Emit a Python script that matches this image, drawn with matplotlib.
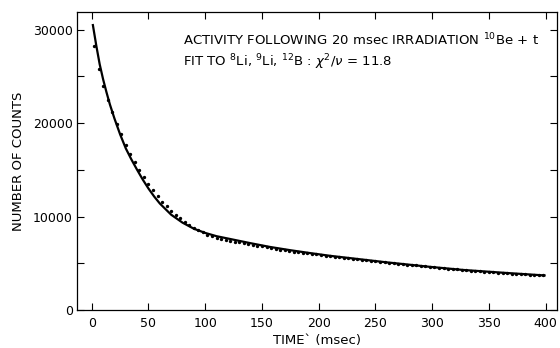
import numpy as np
import matplotlib.pyplot as plt

# fitted curve
fit_t = [1, 4, 7, 10, 13, 16, 20, 25, 30, 35, 40, 45, 50, 55, 60, 70, 80, 90,
         100, 110, 122, 140, 157, 175, 192, 210, 230, 260, 298, 327, 366, 399]
fit_counts = [30500, 28300, 26300, 24700, 23300, 22000, 20500, 18800, 17300, 16100,
              15000, 13950, 13000, 12150, 11400, 10200, 9350, 8700, 8250, 7900,
              7600, 7150, 6750, 6400, 6100, 5800, 5520, 5100, 4620, 4290, 3960, 3700]

# measured counts
data_t = list(range(2, 400, 4))
data_counts = [28300, 25800, 24000, 22500, 21200, 19900, 18800, 17650, 16750, 15850,
               15000, 14200, 13450, 12800, 12150, 11600, 11100, 10600, 10200, 9800,
               9450, 9100, 8800, 8550, 8300, 8080, 7900, 7750, 7630, 7520,
               7420, 7320, 7230, 7140, 7050, 6960, 6880, 6800, 6710, 6620,
               6540, 6470, 6400, 6330, 6260, 6200, 6130, 6070, 6010, 5950,
               5880, 5830, 5760, 5700, 5650, 5600, 5560, 5500, 5450, 5380,
               5340, 5290, 5230, 5170, 5120, 5070, 5020, 4960, 4910, 4870,
               4810, 4780, 4700, 4670, 4600, 4560, 4520, 4470, 4430, 4380,
               4350, 4280, 4250, 4220, 4170, 4160, 4090, 4080, 4050, 3990,
               3980, 3970, 3900, 3890, 3870, 3810, 3800, 3770, 3720, 3700]

x_ticks = [0, 50, 100, 150, 200, 250, 300, 350, 400]
y_ticks = [0, 10000, 20000, 30000]
y_minor = [5000, 15000, 25000]

fig = plt.figure(figsize=(5.6, 3.48), dpi=100)
ax = fig.add_axes([77 / 560, 1 - 310 / 348, 480 / 560, 298 / 348])

ax.plot(fit_t, fit_counts, color='black', lw=1.6)
ax.plot(data_t, data_counts, ls='none', marker='.', ms=2.8, color='black')

ax.set_xlim(-13, 410)
ax.set_ylim(0, 31900)
ax.set_xticks(x_ticks)
ax.set_yticks(y_ticks)
ax.set_yticks(y_minor, minor=True)
ax.tick_params(which='both', direction='in', top=True, right=True, length=5,
               width=0.8, labelsize=9)
ax.tick_params(axis='y', pad=3)
ax.tick_params(axis='x', pad=5)
for s in ax.spines.values():
    s.set_linewidth(0.9)

ax.set_xlabel('TIME` (msec)', fontsize=9.5, labelpad=3)
ax.set_ylabel('NUMBER OF COUNTS', fontsize=9.5, labelpad=6)

fig.text(183 / 560, 1 - 40 / 348,
         r'ACTIVITY FOLLOWING 20 msec IRRADIATION $^{10}$Be + t',
         fontsize=9.5, va='center')
fig.text(183 / 560, 1 - 62 / 348,
         r'FIT TO $^{8}$Li, $^{9}$Li, $^{12}$B : $\chi^2/\nu$ = 11.8',
         fontsize=9.5, va='center')

fig.savefig('out.png', dpi=100)
